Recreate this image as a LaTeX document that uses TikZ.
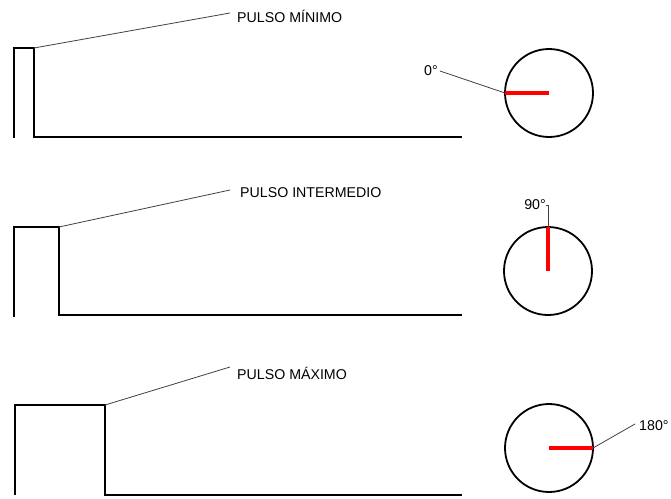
\documentclass[tikz,border=0pt]{standalone}
\usepackage{fontspec}
\setmainfont{Liberation Sans}
\begin{document}
\begin{tikzpicture}[x=1pt,y=-1pt,
  pulse/.style={line width=2.8pt, line join=miter},
  leader/.style={line width=0.8pt, black!75},
  dial/.style={draw, circle, line width=1.8pt, minimum size=88pt, inner sep=0pt, outer sep=0pt},
  needle/.style={line width=4pt, red},
  lbl/.style={font=\fontsize{14.2}{16}\selectfont, inner sep=0pt}]
\useasboundingbox (0,0) rectangle (671,498);

% Row 1
\draw[pulse] (14,138) -- (14,48) -- (34,48) -- (34,137) -- (462,137);
\coordinate (p1) at (34,48);
\coordinate (e1) at (230,13);
\node[lbl, anchor=west] (t1) at (237,16) {PULSO MÍNIMO};
\draw[leader] (p1) -- (e1);
\node[dial] (c1) at (549,93) {};
\draw[needle] (c1.center) -- (c1.west);
\node[lbl, anchor=east] (d1) at (438,71) {0°};
\draw[leader] ([xshift=2pt]d1.east) -- (c1.west);

% Row 2
\draw[pulse] (14,317) -- (14,227) -- (59,227) -- (59,315) -- (462,315);
\coordinate (p2) at (59,227);
\coordinate (e2) at (230,190);
\node[lbl, anchor=west] (t2) at (240,193) {PULSO INTERMEDIO};
\draw[leader] (p2) -- (e2);
\node[dial] (c2) at (548,271) {};
\draw[needle] (c2.center) -- (c2.north);
\node[lbl, anchor=east] (d2) at (546,205) {90°};
\draw[leader] (c2.north) |- (d2.east);

% Row 3
\draw[pulse] (15,495) -- (15,405) -- (105,405) -- (105,495) -- (462,495);
\coordinate (p3) at (105,405);
\coordinate (e3) at (230,367);
\node[lbl, anchor=west] (t3) at (237,373) {PULSO MÁXIMO};
\draw[leader] (p3) -- (e3);
\node[dial] (c3) at (549,448) {};
\draw[needle] (c3.center) -- (c3.east);
\node[lbl, anchor=west] (d3) at (639,426) {180°};
\draw[leader] (c3.east) -- ([xshift=-4pt,yshift=2pt]d3.west);
\end{tikzpicture}
\end{document}
